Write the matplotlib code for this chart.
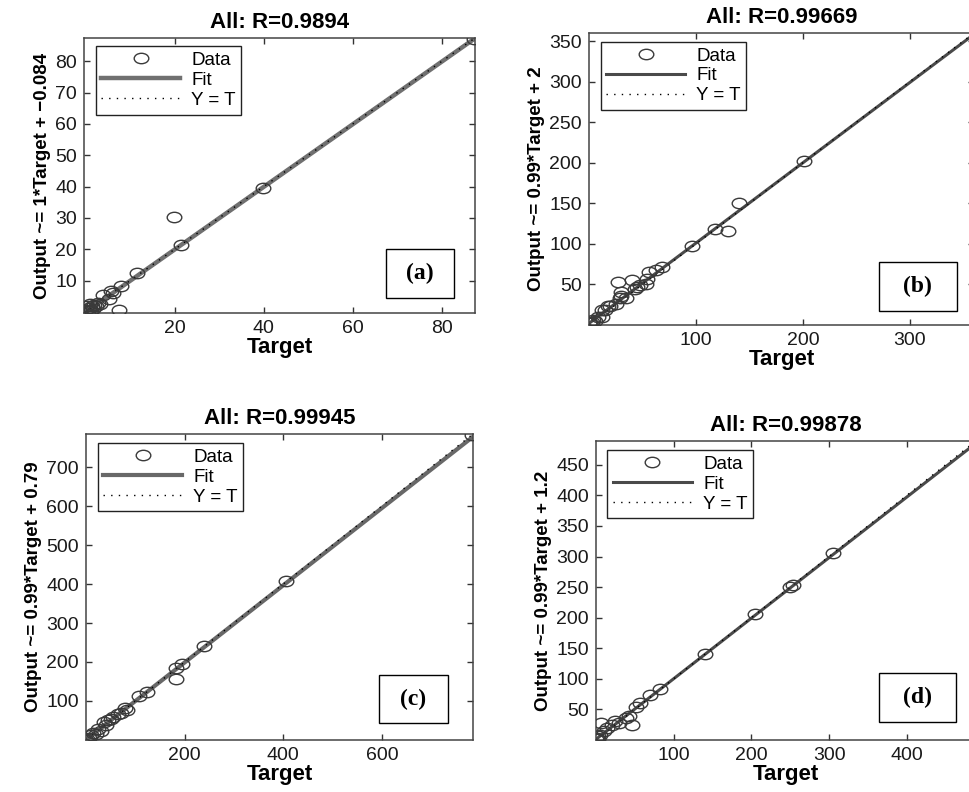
import numpy as np
import matplotlib
matplotlib.use('Agg')
import matplotlib.pyplot as plt
from matplotlib.path import Path
from matplotlib.transforms import Affine2D
from matplotlib.patches import Rectangle

plt.rcParams['font.family'] = ['Liberation Sans', 'DejaVu Sans']

# panel data (target, output)
target_a = [0.2, 0.4, 0.6, 0.8, 1.0, 1.2, 1.5, 1.8, 2.0, 2.4, 2.8, 3.2, 3.9, 5.3, 5.8, 6.3, 7.5, 7.9, 11.6, 19.8, 21.5, 39.8, 87.2]
output_a = [0.5, 1.8, 0.3, 1.2, 2.6, 0.8, 1.9, 1.0, 2.4, 2.0, 3.0, 2.5, 5.4, 4.3, 6.6, 6.0, 0.5, 8.2, 12.4, 30.3, 21.5, 39.6, 87.0]

target_b = [0, 1, 3, 4, 6, 8, 12, 12, 15, 18, 20, 25, 27, 29, 30, 30, 35, 40, 43, 45, 48, 53, 54, 56, 63, 68, 96, 118, 130, 140, 201]
output_b = [2, 2, 4, 6, 5, 10, 18, 10, 18, 24, 24, 26, 53, 33, 41, 36, 33, 55, 45, 47, 49, 50, 57, 65, 68, 72, 98, 118, 116, 150, 202]

target_c = [0, 2, 5, 10, 15, 20, 25, 30, 37, 40, 45, 50, 55, 64, 70, 78, 84, 108, 123, 182, 183, 195, 240, 405, 783]
output_c = [1, 3, 5, 12, 18, 15, 28, 22, 46, 38, 50, 55, 58, 66, 68, 82, 78, 114, 124, 185, 157, 195, 240, 407, 782]

target_d = [0, 1, 2, 3, 5, 7, 10, 14, 20, 24, 30, 38, 42, 46, 52, 56, 70, 82, 140, 205, 250, 253, 305]
output_d = [1, 3, 2, 6, 8, 28, 14, 20, 25, 31, 28, 36, 40, 25, 54, 60, 73, 84, 141, 206, 250, 254, 306]

titles = ['All: R=0.9894', 'All: R=0.99669', 'All: R=0.99945', 'All: R=0.99878']
slopes = [1, 0.99, 0.99, 0.99]
intercepts = ['-0.084', '2', '0.79', '1.2']
ylabels = ['Output ~= 1*Target + \u22120.084', 'Output ~= 0.99*Target + 2',
           'Output ~= 0.99*Target + 0.79', 'Output ~= 0.99*Target + 1.2']
tags = ['(a)', '(b)', '(c)', '(d)']
limits = [(-0.3, 87.4), (0, 360), (0, 785), (0, 489)]
xticks = [[20, 40, 60, 80], [100, 200, 300], [200, 400, 600], [100, 200, 300, 400]]
yticks = [list(range(10, 90, 10)), list(range(50, 400, 50)),
          list(range(100, 800, 100)), list(range(50, 500, 50))]

# layout / style
positions = [[0.0867, 0.6048, 0.4035, 0.3472],
             [0.6078, 0.5896, 0.3973, 0.3687],
             [0.0888, 0.0657, 0.3994, 0.3864],
             [0.6151, 0.0657, 0.3920, 0.3775]]
tag_boxes = [(0.772, 0.055, 0.174, 0.178),
             (0.753, 0.049, 0.202, 0.167),
             (0.757, 0.055, 0.178, 0.157),
             (0.745, 0.061, 0.202, 0.162)]
fit_colors = ['#707070', '#4a4a4a', '#686868', '#4a4a4a']
fit_widths = [3.2, 2.2, 3.0, 2.2]

# circles look stretched sideways in the picture
ellipse = Path.unit_circle().transformed(Affine2D().scale(1.4, 1.0))

datasets = [(target_a, output_a), (target_b, output_b),
            (target_c, output_c), (target_d, output_d)]

fig = plt.figure(figsize=(9.69, 7.92), dpi=100)

for i, (t, o) in enumerate(datasets):
    ax = fig.add_axes(positions[i])
    lo, hi = limits[i]
    xs = np.array([lo, hi])
    ax.plot(t, o, linestyle='none', marker=ellipse, markersize=10.5,
            markerfacecolor='none', markeredgecolor='#3a3a3a',
            markeredgewidth=1.0, label='Data', zorder=3)
    ax.plot(xs, slopes[i] * xs + float(intercepts[i]), color=fit_colors[i],
            lw=fit_widths[i], label='Fit', zorder=2)
    ax.plot(xs, xs, color='black', lw=1.0, linestyle=(0, (1, 4.5)),
            label='Y = T', zorder=2)
    ax.set_xlim(lo, hi)
    ax.set_ylim(lo, hi)
    ax.set_xticks(xticks[i])
    ax.set_yticks(yticks[i])
    ax.tick_params(direction='in', top=True, right=True, length=4, width=1,
                   labelsize=14, colors='#333333', labelcolor='#1a1a1a', pad=5)
    for s in ax.spines.values():
        s.set_color('#444444')
        s.set_linewidth(1.1)
    ax.set_title(titles[i], fontsize=16, fontweight='bold', pad=7)
    ax.set_xlabel('Target', fontsize=16, fontweight='bold', labelpad=0)
    ax.set_ylabel(ylabels[i], fontsize=13.5, fontweight='bold', labelpad=3)
    leg = ax.legend(loc='upper left', bbox_to_anchor=(0.03, 0.97), fontsize=13.5,
                    handlelength=4.2, labelspacing=0.15, borderpad=0.3,
                    handletextpad=0.6, numpoints=1, fancybox=False,
                    framealpha=1, edgecolor='#222222', borderaxespad=0)
    leg.get_frame().set_linewidth(1.0)
    bx, by, bw, bh = tag_boxes[i]
    ax.add_patch(Rectangle((bx, by), bw, bh, transform=ax.transAxes,
                           facecolor='white', edgecolor='black', lw=1.0, zorder=4))
    ax.text(bx + bw / 2, by + bh / 2, tags[i], transform=ax.transAxes,
            ha='center', va='center', fontsize=17, fontweight='bold',
            family=['Liberation Serif', 'DejaVu Serif'], zorder=5)

fig.savefig('out.png', dpi=100)
